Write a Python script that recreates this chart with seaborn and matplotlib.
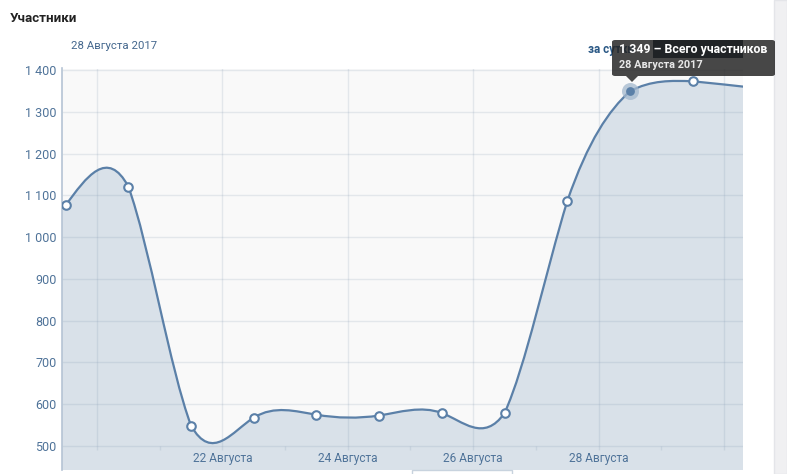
import numpy as np
import pandas as pd
import matplotlib
matplotlib.use('Agg')
import matplotlib.pyplot as plt
from matplotlib.path import Path
from matplotlib.patches import PathPatch, FancyBboxPatch, Polygon, Rectangle
import seaborn as sns

# Total members per day, August 2017 (the 30th falls just past the right edge)
days = [19, 20, 21, 22, 23, 24, 25, 26, 27, 28, 29, 30]
members = [1076, 1121, 549, 568, 575, 573, 579, 579, 1086, 1349, 1373, 1357]

label_days = [22, 24, 26, 28]
label_texts = ['22 Августа', '24 Августа', '26 Августа', '28 Августа']
grid_days = [20, 22, 24, 26, 28, 30]
tick_days = list(range(20, 31))
y_ticks = [500, 600, 700, 800, 900, 1000, 1100, 1200, 1300, 1400]

highlight_day = 28
highlight_text = '1 349 – Всего участников'
highlight_date = '28 Августа 2017'

LINE = '#5b80a8'
FILL = '#d9e1e9'
BG = '#f9f9f9'
TICK_TXT = '#4f7399'

W, H = 787, 474


def fig_xy(x, y):
    # pixel position in the screenshot -> figure fraction
    return x / W, 1 - y / H


def spline_path(xs, ys, bottom=None, tension=0.78):
    """Natural cubic spline through the points as Bezier segments (handles shortened a bit)"""
    xs = np.asarray(xs, float)
    ys = np.asarray(ys, float)
    n = len(xs)
    h = np.diff(xs)
    A = np.zeros((n, n))
    r = np.zeros(n)
    A[0, 0] = A[-1, -1] = 1
    for i in range(1, n - 1):
        A[i, i - 1] = h[i - 1]
        A[i, i] = 2 * (h[i - 1] + h[i])
        A[i, i + 1] = h[i]
        r[i] = 6 * ((ys[i + 1] - ys[i]) / h[i] - (ys[i] - ys[i - 1]) / h[i - 1])
    M = np.linalg.solve(A, r)
    verts = [(xs[0], ys[0])]
    codes = [Path.MOVETO]
    for i in range(n - 1):
        s = (ys[i + 1] - ys[i]) / h[i]
        d0 = s - h[i] * (2 * M[i] + M[i + 1]) / 6
        d1 = s + h[i] * (M[i] + 2 * M[i + 1]) / 6
        d0 = s + tension * (d0 - s)
        d1 = s + tension * (d1 - s)
        verts += [(xs[i] + h[i] / 3, ys[i] + d0 * h[i] / 3),
                  (xs[i + 1] - h[i] / 3, ys[i + 1] - d1 * h[i] / 3),
                  (xs[i + 1], ys[i + 1])]
        codes += [Path.CURVE4] * 3
    if bottom is not None:
        verts += [(xs[-1], bottom), (xs[0] - 1, bottom), (xs[0] - 1, ys[0]), (xs[0], ys[0])]
        codes += [Path.LINETO, Path.LINETO, Path.LINETO, Path.CLOSEPOLY]
    return Path(verts, codes)


sns.set_style('white')
plt.rcParams['font.family'] = ['Roboto', 'DejaVu Sans']

fig = plt.figure(figsize=(W / 100, H / 100), dpi=100)
fig.patch.set_facecolor('white')

ax = fig.add_axes([62 / W, 4 / H, (743 - 62) / W, (470 - 68.5) / H])
ax.set_facecolor(BG)
ax.set_axisbelow(False)

# points sit at midday of each date
df = pd.DataFrame({'x': [d + 0.5 for d in days], 'members': members, 'day': days})
ymin, ymax = 442.6, 1403.6
ax.set_xlim(19.442, 30.303)
ax.set_ylim(ymin, ymax)

# area + smooth line
ax.add_patch(PathPatch(spline_path(df['x'], members, bottom=ymin - 50),
                       facecolor=FILL, edgecolor='none', zorder=1))
ax.add_patch(PathPatch(spline_path(df['x'], members),
                       facecolor='none', edgecolor=LINE, linewidth=1.6, zorder=3,
                       capstyle='round', joinstyle='round'))

# grid
grid_col = (0.5, 0.59, 0.69, 0.18)
ax.hlines(y_ticks, 19.442, 30.303, colors=[grid_col], linewidth=1, zorder=2)
ax.vlines(grid_days, 500, ymax, colors=[grid_col], linewidth=1, zorder=2)
ax.vlines(tick_days, 490.5, 500, colors=[grid_col], linewidth=1, zorder=2)

# markers
normal = df[df['day'] != highlight_day]
sns.scatterplot(data=normal, x='x', y='members', ax=ax, s=38, color='white',
                edgecolor=LINE, linewidth=1.5, zorder=5, legend=False)
hl = df[df['day'] == highlight_day]
ax.scatter(hl['x'], hl['members'], s=150, color='#a3b8ce', alpha=0.75, linewidth=0, zorder=4)
ax.scatter(hl['x'], hl['members'], s=40, color=LINE, linewidth=0, zorder=6)

# axes cosmetics
for side in ['top', 'right', 'bottom']:
    ax.spines[side].set_visible(False)
ax.spines['left'].set_color('#b5c4d4')
ax.spines['left'].set_linewidth(1.2)
ax.set_yticks(y_ticks)
ax.set_yticklabels([f'{v:,}'.replace(',', ' ') for v in y_ticks])
ax.set_xticks(label_days)
ax.set_xticklabels(label_texts)
ax.tick_params(axis='y', length=0, pad=4, labelsize=9, labelcolor=TICK_TXT)
ax.tick_params(axis='x', length=0, pad=-13, labelsize=8.6, labelcolor=TICK_TXT)
ax.set_xlabel('')
ax.set_ylabel('')

# header texts
fig.text(*fig_xy(10, 19), 'Участники', fontsize=9.6, fontweight='bold',
         color='#222222', va='center', ha='left')
fig.text(*fig_xy(71, 46), '28 Августа 2017', fontsize=8.2, color='#45688e',
         va='center', ha='left')
fig.text(*fig_xy(588, 49), 'за сутки', fontsize=8.4, fontweight='bold',
         color='#2a5885', va='center', ha='left')
fig.patches.append(Rectangle(fig_xy(653, 58), 90 / W, 18 / H, transform=fig.transFigure,
                             facecolor='#0f2236', edgecolor='none', zorder=8))

# tooltip
x0, y0 = fig_xy(612, 76)
fig.patches.append(FancyBboxPatch((x0, y0), (775 - 612) / W, 36 / H,
                                  boxstyle='round,pad=0,rounding_size=0.004',
                                  transform=fig.transFigure, facecolor='#242424',
                                  alpha=0.84, edgecolor='none', zorder=9))
fig.patches.append(Polygon([fig_xy(626, 76), fig_xy(638, 76), fig_xy(632, 82)],
                           closed=True, transform=fig.transFigure,
                           facecolor='#242424', alpha=0.84, edgecolor='none', zorder=9))
fig.text(*fig_xy(619, 50), highlight_text, fontsize=8.9, fontweight='bold',
         color='white', va='center', ha='left', zorder=10)
fig.text(*fig_xy(619, 65), highlight_date, fontsize=7.8, fontweight='bold',
         color='#e8e8e8', va='center', ha='left', zorder=10)

# right-hand scrollbar strip and the small box under the axis
fig.patches.append(Rectangle((774 / W, 0), 13 / W, 1, transform=fig.transFigure,
                             facecolor='#f0f0f2', edgecolor='#e4e5e9', linewidth=1, zorder=1))
fig.patches.append(Rectangle(fig_xy(412, 480), 100 / W, 10 / H, transform=fig.transFigure,
                             facecolor='white', edgecolor='#c8d3de', linewidth=1, zorder=1))

fig.savefig('out.png', dpi=100)
